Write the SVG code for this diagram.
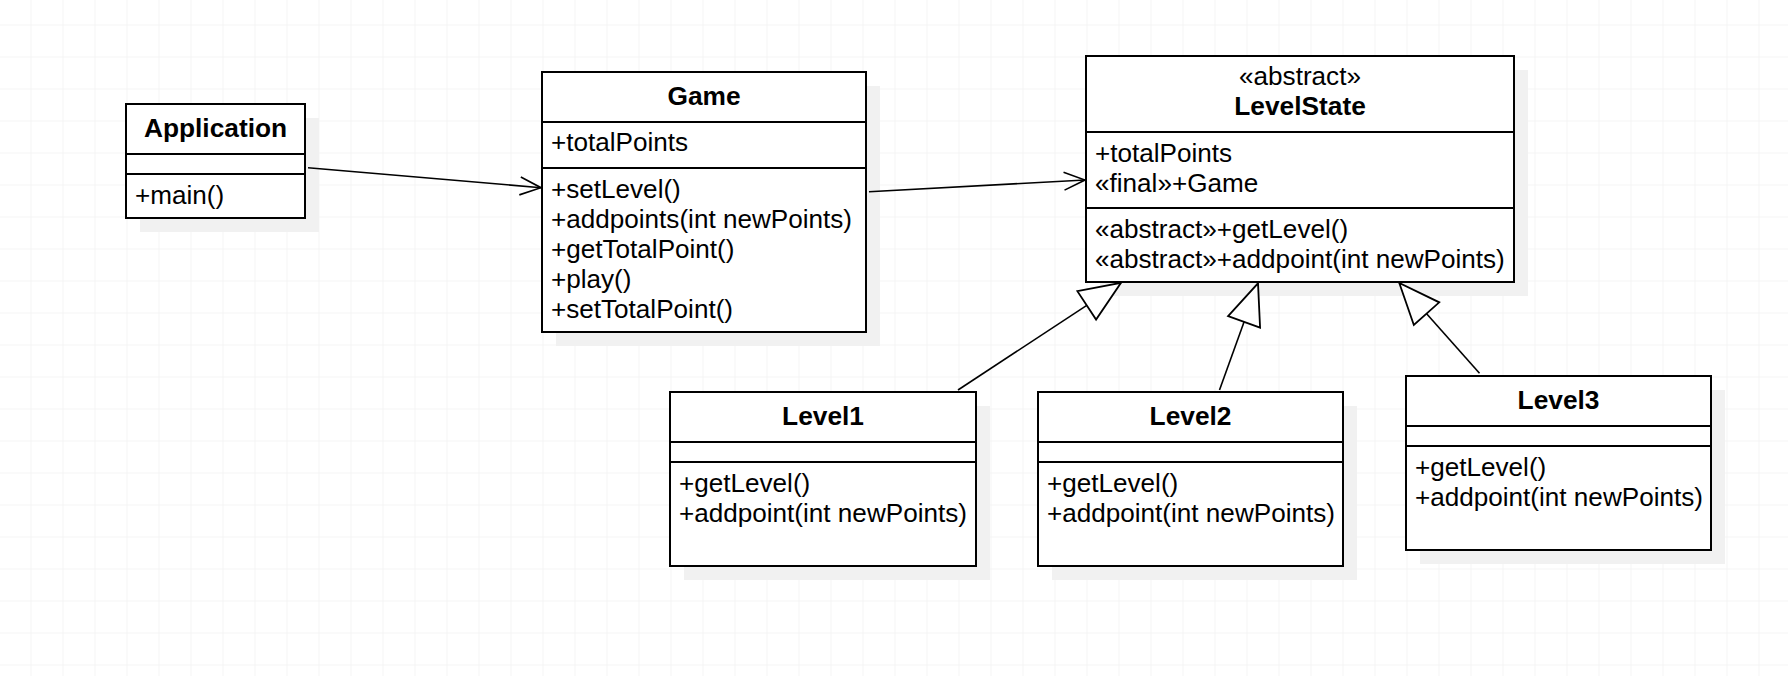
<svg xmlns="http://www.w3.org/2000/svg" width="1788" height="676" viewBox="0 0 1788 676">
  <defs>
    <pattern id="grid" x="30.5" y="24.5" width="32" height="32" patternUnits="userSpaceOnUse">
      <path d="M0,0 H32 M0,0 V32" fill="none" stroke="#ebebeb" stroke-width="1"/>
    </pattern>
    <!-- open arrowhead for associations -->
    <marker id="open" markerUnits="userSpaceOnUse" viewBox="-2 -2 25 22" markerWidth="25" markerHeight="22" refX="21" refY="9" orient="auto">
      <path d="M0,0 L21,9 L0,18" fill="none" stroke="#000" stroke-width="1.6"/>
    </marker>
    <!-- hollow triangle for generalization -->
    <marker id="inherit" markerUnits="userSpaceOnUse" viewBox="-2 -2 46 38" markerWidth="46" markerHeight="38" refX="41" refY="17" orient="auto">
      <path d="M0,0 L41,17 L0,34 Z" fill="#fff" stroke="#000" stroke-width="1.8"/>
    </marker>
    <style>
      .box { fill: #fff; stroke: #000; stroke-width: 2; }
      .shadow { fill: #f1f1f1; stroke: none; }
      .sep { stroke: #000; stroke-width: 2; }
      text { font-family: "Liberation Sans", Arial, sans-serif; font-size: 26.1px; fill: #000; }
      .title { font-weight: bold; text-anchor: middle; font-size: 26.3px; }
      .stereo { text-anchor: middle; }
      .edge { fill: none; stroke: #000; stroke-width: 1.6; }
    </style>
  </defs>

  <rect width="1788" height="676" fill="#fff"/>
  <rect width="1788" height="676" fill="url(#grid)"/>

  <!-- Application -->
  <g id="application">
    <rect class="shadow" x="140" y="118" width="179" height="114"/>
    <rect class="box" x="126" y="104" width="179" height="114"/>
    <line class="sep" x1="126" y1="154" x2="305" y2="154"/>
    <line class="sep" x1="126" y1="174" x2="305" y2="174"/>
    <text class="title" x="215.5" y="137">Application</text>
    <text x="135" y="204">+main()</text>
  </g>

  <!-- Game -->
  <g id="game">
    <rect class="shadow" x="556" y="86" width="324" height="260"/>
    <rect class="box" x="542" y="72" width="324" height="260"/>
    <line class="sep" x1="542" y1="122" x2="866" y2="122"/>
    <line class="sep" x1="542" y1="168" x2="866" y2="168"/>
    <text class="title" x="704" y="104.5">Game</text>
    <text x="551" y="151.2">+totalPoints</text>
    <text x="551" y="198">+setLevel()</text>
    <text x="551" y="228">+addpoints(int newPoints)</text>
    <text x="551" y="258">+getTotalPoint()</text>
    <text x="551" y="288">+play()</text>
    <text x="551" y="318">+setTotalPoint()</text>
  </g>

  <!-- LevelState -->
  <g id="levelstate">
    <rect class="shadow" x="1100" y="70" width="428" height="226"/>
    <rect class="box" x="1086" y="56" width="428" height="226"/>
    <line class="sep" x1="1086" y1="132" x2="1514" y2="132"/>
    <line class="sep" x1="1086" y1="208" x2="1514" y2="208"/>
    <text class="stereo" x="1300" y="84.5">«abstract»</text>
    <text class="title" x="1300" y="115">LevelState</text>
    <text x="1095" y="161.5">+totalPoints</text>
    <text x="1095" y="191.5">«final»+Game</text>
    <text x="1095" y="238">«abstract»+getLevel()</text>
    <text x="1095" y="268">«abstract»+addpoint(int newPoints)</text>
  </g>

  <!-- Level1 -->
  <g id="level1">
    <rect class="shadow" x="684" y="406" width="306" height="174"/>
    <rect class="box" x="670" y="392" width="306" height="174"/>
    <line class="sep" x1="670" y1="442" x2="976" y2="442"/>
    <line class="sep" x1="670" y1="462" x2="976" y2="462"/>
    <text class="title" x="823" y="425">Level1</text>
    <text x="679" y="491.5">+getLevel()</text>
    <text x="679" y="521.5">+addpoint(int newPoints)</text>
  </g>

  <!-- Level2 -->
  <g id="level2">
    <rect class="shadow" x="1052" y="406" width="305" height="174"/>
    <rect class="box" x="1038" y="392" width="305" height="174"/>
    <line class="sep" x1="1038" y1="442" x2="1343" y2="442"/>
    <line class="sep" x1="1038" y1="462" x2="1343" y2="462"/>
    <text class="title" x="1190.5" y="425">Level2</text>
    <text x="1047" y="491.5">+getLevel()</text>
    <text x="1047" y="521.5">+addpoint(int newPoints)</text>
  </g>

  <!-- Level3 -->
  <g id="level3">
    <rect class="shadow" x="1420" y="390" width="305" height="174"/>
    <rect class="box" x="1406" y="376" width="305" height="174"/>
    <line class="sep" x1="1406" y1="426" x2="1711" y2="426"/>
    <line class="sep" x1="1406" y1="446" x2="1711" y2="446"/>
    <text class="title" x="1558.5" y="409">Level3</text>
    <text x="1415" y="475.5">+getLevel()</text>
    <text x="1415" y="505.5">+addpoint(int newPoints)</text>
  </g>

  <!-- Connectors -->
  <g id="connectors">
    <line class="edge" x1="308" y1="167.7" x2="541" y2="187.7" marker-end="url(#open)"/>
    <line class="edge" x1="869" y1="191.7" x2="1085" y2="180" marker-end="url(#open)"/>
    <line class="edge" x1="958" y1="390" x2="1121" y2="282.8" marker-end="url(#inherit)"/>
    <line class="edge" x1="1219.5" y1="390" x2="1258" y2="283.3" marker-end="url(#inherit)"/>
    <line class="edge" x1="1479.5" y1="373.2" x2="1399.3" y2="283" marker-end="url(#inherit)"/>
  </g>
</svg>
